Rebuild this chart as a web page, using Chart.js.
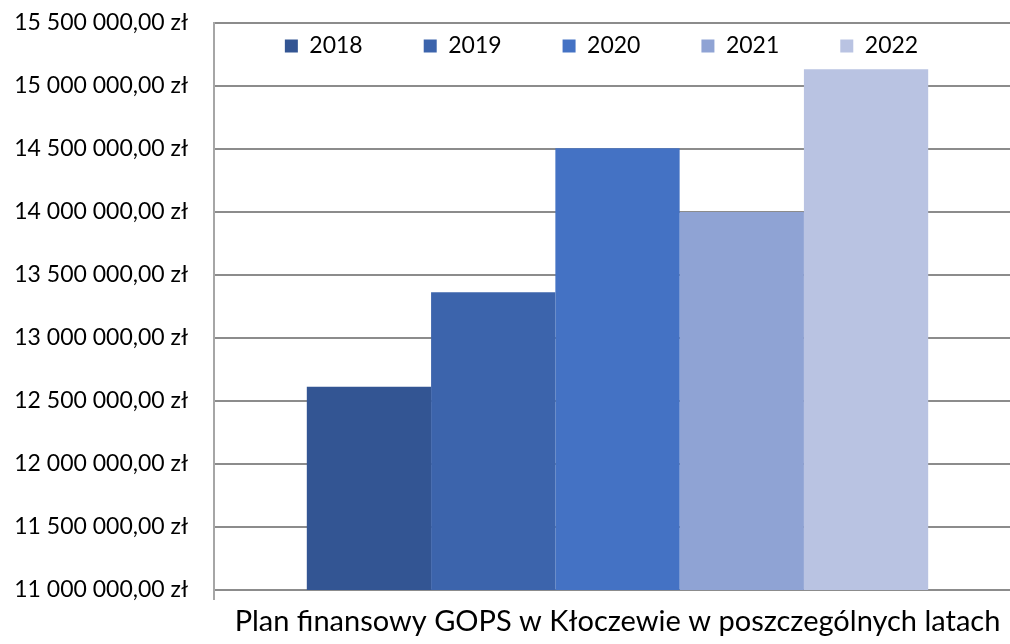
<!DOCTYPE html>
<html>
<head>
<meta charset="utf-8">
<script src="https://cdn.jsdelivr.net/npm/chart.js"></script>
<style>
  html, body { margin: 0; padding: 0; background: #fff; overflow: hidden; }
  #wrap { width: 1021px; height: 644px; }
</style>
</head>
<body>
<div id="wrap"><canvas id="plan" width="1021" height="644"></canvas></div>
<script>
// dane
const category = ['Plan finansowy GOPS w Kłoczewie w poszczególnych latach'];
const years = ['2018', '2019', '2020', '2021', '2022'];
const amounts = [12613000, 13363000, 14505000, 14000000, 15132000];
const yMin = 11000000;
const yMax = 15500000;
const yStep = 500000;

const colors = ['#335593', '#3C64AC', '#4472C4', '#8FA3D4', '#B9C3E2'];

function zl(v) {
    const s = Math.round(v).toString().replace(/\B(?=(\d{3})+(?!\d))/g, ' ');
    return s + ',00 zł';
}

const datasets = years.map(function (y, i) {
    return {
        label: y,
        data: [amounts[i]],
        backgroundColor: colors[i],
        borderWidth: 0
    };
});

// legenda wewnatrz obszaru wykresu (jak w Excelu)
const legendInside = {
    id: 'legendInside',
    afterLayout(chart) {
        const lg = chart.legend;
        const a = chart.chartArea;
        const pad = lg.options.labels.padding;
        const fs = lg.options.labels.font.size;
        lg.left = a.left;
        lg.right = a.right - 32;
        lg.width = lg.right - lg.left;
        lg.top = 46 - pad - fs / 2;
        lg.bottom = a.top + 60;
        lg.height = lg.bottom - lg.top;
    }
};

const ctx = document.getElementById('plan').getContext('2d');
const chart = new Chart(ctx, {
    type: 'bar',
    data: {
        labels: category,
        datasets: datasets
    },
    options: {
        responsive: false,
        animation: false,
        layout: { padding: { top: 22, left: 0, right: 0, bottom: 0 } },
        plugins: {
            tooltip: { enabled: false },
            legend: {
                position: 'top',
                maxHeight: 1,
                labels: {
                    boxWidth: 13,
                    boxHeight: 13,
                    padding: 61,
                    color: '#000',
                    font: { family: 'Lato', size: 23 }
                }
            }
        },
        datasets: {
            bar: { categoryPercentage: 0.77, barPercentage: 1 }
        },
        scales: {
            x: {
                grid: {
                    display: true,
                    drawOnChartArea: false,
                    drawTicks: true,
                    tickLength: 10,
                    color: '#a6a6a6',
                    lineWidth: 2
                },
                border: { color: '#8c8c8c', width: 2 },
                ticks: {
                    color: '#000',
                    padding: 4,
                    font: { family: 'Lato', size: 29 }
                },
                afterFit(scale) { scale.height = 54; }
            },
            y: {
                min: yMin,
                max: yMax,
                ticks: {
                    stepSize: yStep,
                    color: '#000',
                    padding: 2,
                    font: { family: 'Lato', size: 23 },
                    callback: function (v) { return zl(v); }
                },
                grid: {
                    color: '#8c8c8c',
                    lineWidth: 2,
                    drawTicks: true,
                    tickLength: 24,
                    tickColor: 'rgba(0,0,0,0)'
                },
                border: { color: '#a6a6a6', width: 2 },
                afterFit(scale) { scale.width = 214; }
            }
        }
    },
    plugins: [legendInside]
});
</script>
</body>
</html>
